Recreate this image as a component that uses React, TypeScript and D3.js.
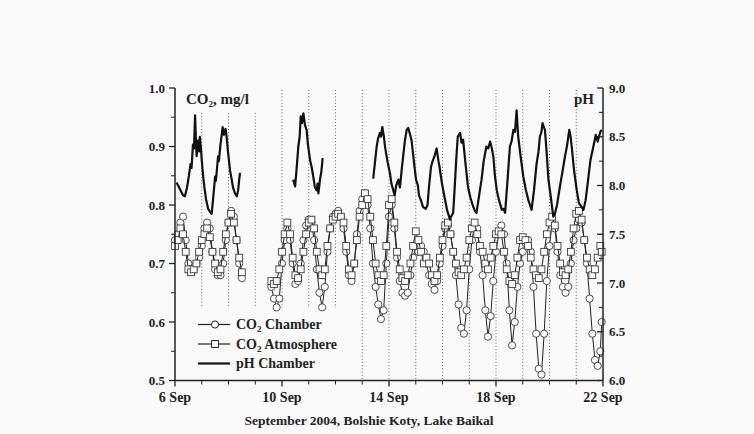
import React from "react";
import * as d3 from "d3";

type P = [number, number];

// CO2 in chamber (mg/l): [day of September, value]
const chamberA: P[] = [
  [6.0, 0.74], [6.1, 0.75], [6.2, 0.77], [6.3, 0.78], [6.4, 0.74], [6.5, 0.7], [6.6, 0.69], [6.7, 0.69],
  [6.8, 0.7], [6.9, 0.71], [7.0, 0.73], [7.1, 0.76], [7.2, 0.77], [7.3, 0.76], [7.4, 0.72], [7.5, 0.69],
  [7.6, 0.68], [7.7, 0.68], [7.8, 0.7], [7.9, 0.74], [8.0, 0.77], [8.1, 0.79], [8.2, 0.78], [8.3, 0.74],
  [8.4, 0.7], [8.5, 0.675],
];
const chamberB: P[] = [
  [9.6, 0.66], [9.7, 0.64], [9.8, 0.625], [9.9, 0.64], [10.0, 0.7], [10.1, 0.74], [10.2, 0.76], [10.3, 0.74],
  [10.4, 0.7], [10.5, 0.665], [10.6, 0.67], [10.7, 0.7], [10.8, 0.74], [10.9, 0.765], [11.0, 0.775], [11.1, 0.77],
  [11.2, 0.74], [11.3, 0.69], [11.4, 0.65], [11.5, 0.625], [11.6, 0.66], [11.7, 0.72], [11.8, 0.76], [11.9, 0.78],
  [12.0, 0.785], [12.1, 0.79], [12.2, 0.78], [12.3, 0.76], [12.4, 0.72], [12.5, 0.68], [12.6, 0.67], [12.7, 0.7],
  [12.8, 0.75], [12.9, 0.79], [13.0, 0.81], [13.1, 0.82], [13.2, 0.8], [13.3, 0.76], [13.4, 0.7], [13.5, 0.66],
  [13.6, 0.63], [13.7, 0.605], [13.8, 0.62], [13.9, 0.7], [14.0, 0.78], [14.1, 0.8], [14.2, 0.76], [14.3, 0.71],
  [14.4, 0.67], [14.5, 0.65], [14.6, 0.645], [14.7, 0.65], [14.8, 0.68], [14.9, 0.71], [15.0, 0.73], [15.1, 0.72],
  [15.2, 0.73], [15.3, 0.72], [15.4, 0.7], [15.5, 0.68], [15.6, 0.665], [15.7, 0.655], [15.8, 0.67], [15.9, 0.7],
  [16.0, 0.73], [16.1, 0.76], [16.2, 0.765], [16.3, 0.75], [16.4, 0.72], [16.5, 0.68], [16.6, 0.63], [16.7, 0.59],
  [16.8, 0.58], [16.9, 0.62], [17.0, 0.69], [17.1, 0.74], [17.2, 0.765], [17.3, 0.76], [17.4, 0.72], [17.5, 0.68],
  [17.6, 0.62], [17.7, 0.575], [17.8, 0.61], [17.9, 0.67], [18.0, 0.72], [18.1, 0.75], [18.2, 0.765], [18.3, 0.75],
  [18.4, 0.7], [18.5, 0.62], [18.6, 0.56], [18.7, 0.6], [18.8, 0.66], [18.9, 0.7], [19.0, 0.72], [19.1, 0.735],
  [19.2, 0.74], [19.3, 0.72], [19.4, 0.66], [19.5, 0.58], [19.6, 0.52], [19.7, 0.51], [19.8, 0.58], [19.9, 0.67],
  [20.0, 0.73], [20.1, 0.77], [20.2, 0.76], [20.3, 0.72], [20.4, 0.68], [20.5, 0.66], [20.6, 0.65], [20.7, 0.66],
  [20.8, 0.7], [20.9, 0.74], [21.0, 0.76], [21.1, 0.775], [21.2, 0.77], [21.3, 0.74], [21.4, 0.7], [21.5, 0.64],
  [21.6, 0.58], [21.7, 0.535], [21.8, 0.525], [21.9, 0.55], [21.95, 0.6],
];

// CO2 in atmosphere (mg/l)
const atmosphereA: P[] = [
  [6.0, 0.73], [6.1, 0.74], [6.2, 0.76], [6.3, 0.75], [6.4, 0.72], [6.5, 0.69], [6.6, 0.685], [6.7, 0.69],
  [6.8, 0.7], [6.9, 0.72], [7.0, 0.74], [7.1, 0.75], [7.2, 0.76], [7.3, 0.745], [7.4, 0.72], [7.5, 0.7],
  [7.6, 0.685], [7.7, 0.69], [7.8, 0.72], [7.9, 0.75], [8.0, 0.77], [8.1, 0.785], [8.2, 0.77], [8.3, 0.74],
  [8.4, 0.71], [8.5, 0.685],
];
const atmosphereB: P[] = [
  [9.6, 0.67], [9.7, 0.665], [9.8, 0.67], [9.9, 0.69], [10.0, 0.72], [10.1, 0.75], [10.2, 0.77], [10.3, 0.75],
  [10.4, 0.71], [10.5, 0.68], [10.6, 0.675], [10.7, 0.69], [10.8, 0.72], [10.9, 0.75], [11.0, 0.77], [11.1, 0.775],
  [11.2, 0.76], [11.3, 0.72], [11.4, 0.69], [11.5, 0.68], [11.6, 0.69], [11.7, 0.73], [11.8, 0.76], [11.9, 0.775],
  [12.0, 0.78], [12.1, 0.785], [12.2, 0.78], [12.3, 0.77], [12.4, 0.73], [12.5, 0.69], [12.6, 0.68], [12.7, 0.7],
  [12.8, 0.74], [12.9, 0.78], [13.0, 0.8], [13.1, 0.82], [13.2, 0.81], [13.3, 0.78], [13.4, 0.74], [13.5, 0.7],
  [13.6, 0.68], [13.7, 0.67], [13.8, 0.68], [13.9, 0.73], [14.0, 0.8], [14.1, 0.81], [14.2, 0.77], [14.3, 0.72],
  [14.4, 0.69], [14.5, 0.675], [14.6, 0.67], [14.7, 0.68], [14.8, 0.7], [14.9, 0.73], [15.0, 0.755], [15.1, 0.74],
  [15.2, 0.72], [15.3, 0.7], [15.4, 0.71], [15.5, 0.7], [15.6, 0.68], [15.7, 0.67], [15.8, 0.68], [15.9, 0.71],
  [16.0, 0.74], [16.1, 0.765], [16.2, 0.77], [16.3, 0.75], [16.4, 0.72], [16.5, 0.7], [16.6, 0.685], [16.7, 0.68],
  [16.8, 0.69], [16.9, 0.71], [17.0, 0.74], [17.1, 0.76], [17.2, 0.77], [17.3, 0.75], [17.4, 0.73], [17.5, 0.72],
  [17.6, 0.7], [17.7, 0.69], [17.8, 0.71], [17.9, 0.73], [18.0, 0.75], [18.1, 0.755], [18.2, 0.75], [18.3, 0.72],
  [18.4, 0.69], [18.5, 0.67], [18.6, 0.665], [18.7, 0.68], [18.8, 0.71], [18.9, 0.74], [19.0, 0.745], [19.1, 0.74],
  [19.2, 0.73], [19.3, 0.71], [19.4, 0.69], [19.5, 0.68], [19.6, 0.675], [19.7, 0.69], [19.8, 0.72], [19.9, 0.75],
  [20.0, 0.77], [20.1, 0.78], [20.2, 0.765], [20.3, 0.73], [20.4, 0.7], [20.5, 0.685], [20.6, 0.68], [20.7, 0.69],
  [20.8, 0.72], [20.9, 0.76], [21.0, 0.785], [21.1, 0.79], [21.2, 0.775], [21.3, 0.74], [21.4, 0.71], [21.5, 0.69],
  [21.6, 0.68], [21.7, 0.69], [21.8, 0.71], [21.9, 0.73], [21.95, 0.72],
];

// pH in chamber
const phA: P[] = [
  [6.06, 8.03], [6.19, 7.96], [6.3, 7.9], [6.37, 7.89], [6.45, 7.98], [6.52, 8.1], [6.58, 8.22], [6.62, 8.18],
  [6.67, 8.42], [6.71, 8.38], [6.75, 8.72], [6.79, 8.4], [6.81, 8.3], [6.86, 8.46], [6.9, 8.35], [6.93, 8.5],
  [6.97, 8.38], [7.0, 8.26], [7.05, 8.1], [7.1, 7.98], [7.16, 7.86], [7.24, 7.76], [7.31, 7.73], [7.37, 7.71],
  [7.42, 7.85], [7.5, 8.09], [7.53, 8.05], [7.61, 8.3], [7.64, 8.25], [7.7, 8.42], [7.76, 8.55], [7.78, 8.6],
  [7.83, 8.52], [7.89, 8.58], [7.93, 8.5], [7.98, 8.35], [8.06, 8.15], [8.12, 8.06], [8.17, 7.98], [8.24, 7.92],
  [8.31, 7.89], [8.36, 7.95], [8.4, 8.06], [8.43, 8.13],
];
const phB: P[] = [
  [10.42, 8.06], [10.49, 7.99], [10.54, 8.15], [10.61, 8.4], [10.66, 8.5], [10.7, 8.71], [10.75, 8.64], [10.8, 8.74],
  [10.86, 8.62], [10.92, 8.57], [10.97, 8.42], [11.05, 8.26], [11.1, 8.2], [11.17, 8.09], [11.23, 7.98], [11.3, 7.95],
  [11.33, 8.02], [11.36, 7.92], [11.38, 7.96], [11.42, 8.06], [11.47, 8.14], [11.52, 8.28],
];
const phC: P[] = [
  [13.41, 8.07], [13.48, 8.25], [13.54, 8.4], [13.59, 8.48], [13.66, 8.54], [13.7, 8.5], [13.75, 8.6], [13.81, 8.5],
  [13.85, 8.4], [13.94, 8.25], [14.04, 8.12], [14.09, 8.02], [14.16, 7.95], [14.21, 7.9], [14.27, 8.0], [14.35, 8.06],
  [14.41, 7.98], [14.47, 8.15], [14.53, 8.3], [14.59, 8.45], [14.66, 8.57], [14.72, 8.59], [14.79, 8.52], [14.84, 8.47],
  [14.91, 8.3], [14.95, 8.2], [15.01, 8.06], [15.08, 8.0], [15.12, 7.9], [15.19, 7.85], [15.27, 7.78], [15.37, 7.76],
  [15.44, 7.8], [15.5, 8.0], [15.57, 8.19], [15.63, 8.25], [15.7, 8.3], [15.78, 8.38], [15.85, 8.25], [15.89, 8.19],
  [15.98, 8.02], [16.07, 7.89], [16.17, 7.75], [16.28, 7.65], [16.32, 7.68], [16.4, 7.72], [16.45, 7.95], [16.51, 8.25],
  [16.57, 8.5], [16.66, 8.54], [16.71, 8.44], [16.77, 8.47], [16.85, 8.25], [16.95, 7.99], [17.04, 7.88], [17.15, 7.78],
  [17.21, 7.74], [17.27, 7.72], [17.36, 7.88], [17.46, 8.06], [17.54, 8.25], [17.64, 8.4], [17.71, 8.38], [17.78, 8.45],
  [17.83, 8.4], [17.9, 8.3], [17.96, 8.1], [18.03, 7.95], [18.11, 7.85], [18.22, 7.75], [18.28, 7.76], [18.34, 7.72],
  [18.43, 8.05], [18.52, 8.4], [18.58, 8.45], [18.65, 8.57], [18.71, 8.55], [18.77, 8.77], [18.83, 8.5], [18.92, 8.3],
  [19.02, 8.09], [19.12, 7.95], [19.21, 7.85], [19.27, 7.8], [19.33, 7.75], [19.42, 7.95], [19.52, 8.23], [19.59, 8.35],
  [19.64, 8.5], [19.7, 8.55], [19.74, 8.64], [19.79, 8.6], [19.83, 8.57], [19.89, 8.35], [19.96, 8.06], [20.04, 7.9],
  [20.14, 7.68], [20.21, 7.72], [20.28, 7.8], [20.39, 7.99], [20.49, 8.15], [20.58, 8.3], [20.65, 8.4], [20.74, 8.57],
  [20.79, 8.5], [20.83, 8.4], [20.92, 8.15], [21.02, 7.95], [21.1, 7.82], [21.2, 7.78], [21.27, 7.75], [21.35, 7.85],
  [21.44, 8.05], [21.53, 8.26], [21.64, 8.4], [21.73, 8.52], [21.8, 8.45], [21.9, 8.55], [21.95, 8.57],
];

const xMajorDays = [6, 10, 14, 18, 22];
const xTickLabels = ["6 Sep", "10 Sep", "14 Sep", "18 Sep", "22 Sep"];
const xMinorDays = [7, 8, 9, 11, 12, 13, 15, 16, 17, 19, 20, 21];
const dottedDays = [7, 8, 9, 10, 11, 12, 13, 14, 15, 16, 17, 18, 19, 20, 21];
const co2Ticks = [0.5, 0.6, 0.7, 0.8, 0.9, 1.0];
const co2Minor = [0.55, 0.65, 0.75, 0.85, 0.95];
const phTicks = [6.0, 6.5, 7.0, 7.5, 8.0, 8.5, 9.0];
const phMinor = [6.25, 6.75, 7.25, 7.75, 8.25, 8.75];

const W = 754;
const H = 434;
const FONT = "'Liberation Serif', 'DejaVu Serif', serif";

export default function App() {
  const x = d3.scaleLinear().domain([6, 22]).range([175, 603]);
  const y = d3.scaleLinear().domain([0.5, 1.0]).range([380.5, 88]);
  const yp = d3.scaleLinear().domain([6, 9]).range([380.5, 88]);

  const co2Line = d3.line<P>().x((d) => x(d[0])).y((d) => y(d[1]));
  const phLine = d3.line<P>().x((d) => x(d[0])).y((d) => yp(d[1]));

  const left = x(6);
  const right = x(22);
  const bottom = y(0.5);
  const top = y(1.0);

  const circles = (pts: P[], key: string) =>
    pts.map((d, i) => (
      <circle key={key + i} cx={x(d[0])} cy={y(d[1])} r={3.6} fill="#fff" stroke="#3a3a3a" strokeWidth={0.9} />
    ));
  const squares = (pts: P[], key: string) =>
    pts.map((d, i) => (
      <rect key={key + i} x={x(d[0]) - 3.4} y={y(d[1]) - 3.4} width={6.8} height={6.8} fill="#fff" stroke="#3a3a3a" strokeWidth={0.9} />
    ));

  const sub = (main: string, rest: string) => (
    <>
      {main}
      <tspan fontSize="9" dy="3">2</tspan>
      <tspan dy="-3">{rest}</tspan>
    </>
  );

  return (
    <svg
      width={W}
      height={H}
      style={{ position: "absolute", left: 0, top: 0, background: "#fafafa" }}
      fontFamily={FONT}
      fontWeight="bold"
    >
      <rect x={0} y={0} width={W} height={H} fill="#fafafa" />

      {/* dotted day lines */}
      {dottedDays.map((d) => (
        <line
          key={"dl" + d}
          x1={x(d)}
          x2={x(d)}
          y1={d <= 9 ? 113 : 90}
          y2={d <= 12 ? 308 : bottom}
          stroke="#666"
          strokeWidth={1}
          strokeDasharray="1,2.2"
        />
      ))}

      {/* CO2 chamber */}
      {[chamberA, chamberB].map((s, i) => (
        <path key={"cl" + i} d={co2Line(s) || ""} fill="none" stroke="#222" strokeWidth={1} />
      ))}
      {circles(chamberA, "ca")}
      {circles(chamberB, "cb")}

      {/* CO2 atmosphere */}
      {[atmosphereA, atmosphereB].map((s, i) => (
        <path key={"al" + i} d={co2Line(s) || ""} fill="none" stroke="#222" strokeWidth={1} />
      ))}
      {squares(atmosphereA, "aa")}
      {squares(atmosphereB, "ab")}

      {/* pH */}
      {[phA, phB, phC].map((s, i) => (
        <path key={"ph" + i} d={phLine(s) || ""} fill="none" stroke="#111" strokeWidth={2.2} strokeLinejoin="round" />
      ))}

      {/* axes */}
      <line x1={left} x2={left} y1={top} y2={bottom} stroke="#222" strokeWidth={1.5} />
      <line x1={right} x2={right} y1={top} y2={bottom} stroke="#222" strokeWidth={1.5} />
      <line x1={left} x2={right} y1={bottom} y2={bottom} stroke="#222" strokeWidth={1.5} />

      {co2Ticks.map((v) => (
        <g key={"lt" + v}>
          <line x1={left - 6} x2={left} y1={y(v)} y2={y(v)} stroke="#222" strokeWidth={1.3} />
          <text x={left - 10} y={y(v)} dy="0.35em" textAnchor="end" fontSize={13} fill="#222">
            {v.toFixed(1)}
          </text>
        </g>
      ))}
      {co2Minor.map((v) => (
        <line key={"lm" + v} x1={left - 4} x2={left} y1={y(v)} y2={y(v)} stroke="#222" strokeWidth={1} />
      ))}

      {phTicks.map((v) => (
        <g key={"rt" + v}>
          <line x1={right - 6} x2={right} y1={yp(v)} y2={yp(v)} stroke="#222" strokeWidth={1.3} />
          <text x={right + 6} y={yp(v)} dy="0.35em" textAnchor="start" fontSize={13} fill="#222">
            {v.toFixed(1)}
          </text>
        </g>
      ))}
      {phMinor.map((v) => (
        <line key={"rm" + v} x1={right - 4} x2={right} y1={yp(v)} y2={yp(v)} stroke="#222" strokeWidth={1} />
      ))}

      {xMajorDays.map((d, i) => (
        <g key={"xt" + d}>
          <line x1={x(d)} x2={x(d)} y1={bottom} y2={bottom + 6} stroke="#222" strokeWidth={1.3} />
          <text x={x(d)} y={402} textAnchor="middle" fontSize={14} fill="#222">
            {xTickLabels[i]}
          </text>
        </g>
      ))}
      {xMinorDays.map((d) => (
        <line key={"xm" + d} x1={x(d)} x2={x(d)} y1={bottom} y2={bottom + 4} stroke="#222" strokeWidth={1} />
      ))}

      <text x={369} y={425} textAnchor="middle" fontSize={13.5} fill="#222">
        September 2004, Bolshie Koty, Lake Baikal
      </text>

      <text x={186} y={104} fontSize={15} fill="#222">
        {sub("CO", ", mg/l")}
      </text>
      <text x={574} y={104} fontSize={15} fill="#222">
        pH
      </text>

      {/* legend */}
      <g>
        <line x1={198} x2={230} y1={324.5} y2={324.5} stroke="#222" strokeWidth={1.2} />
        <circle cx={215} cy={324.5} r={3.6} fill="#fff" stroke="#222" strokeWidth={1} />
        <text x={236} y={324.5} dy="0.35em" fontSize={14} fill="#222">
          {sub("CO", " Chamber")}
        </text>

        <line x1={198} x2={230} y1={344} y2={344} stroke="#222" strokeWidth={1.2} />
        <rect x={211.6} y={340.6} width={6.8} height={6.8} fill="#fff" stroke="#222" strokeWidth={1} />
        <text x={236} y={344} dy="0.35em" fontSize={14} fill="#222">
          {sub("CO", " Atmosphere")}
        </text>

        <line x1={198} x2={230} y1={363.5} y2={363.5} stroke="#111" strokeWidth={2.2} />
        <text x={236} y={363.5} dy="0.35em" fontSize={14} fill="#222">
          pH Chamber
        </text>
      </g>
    </svg>
  );
}
